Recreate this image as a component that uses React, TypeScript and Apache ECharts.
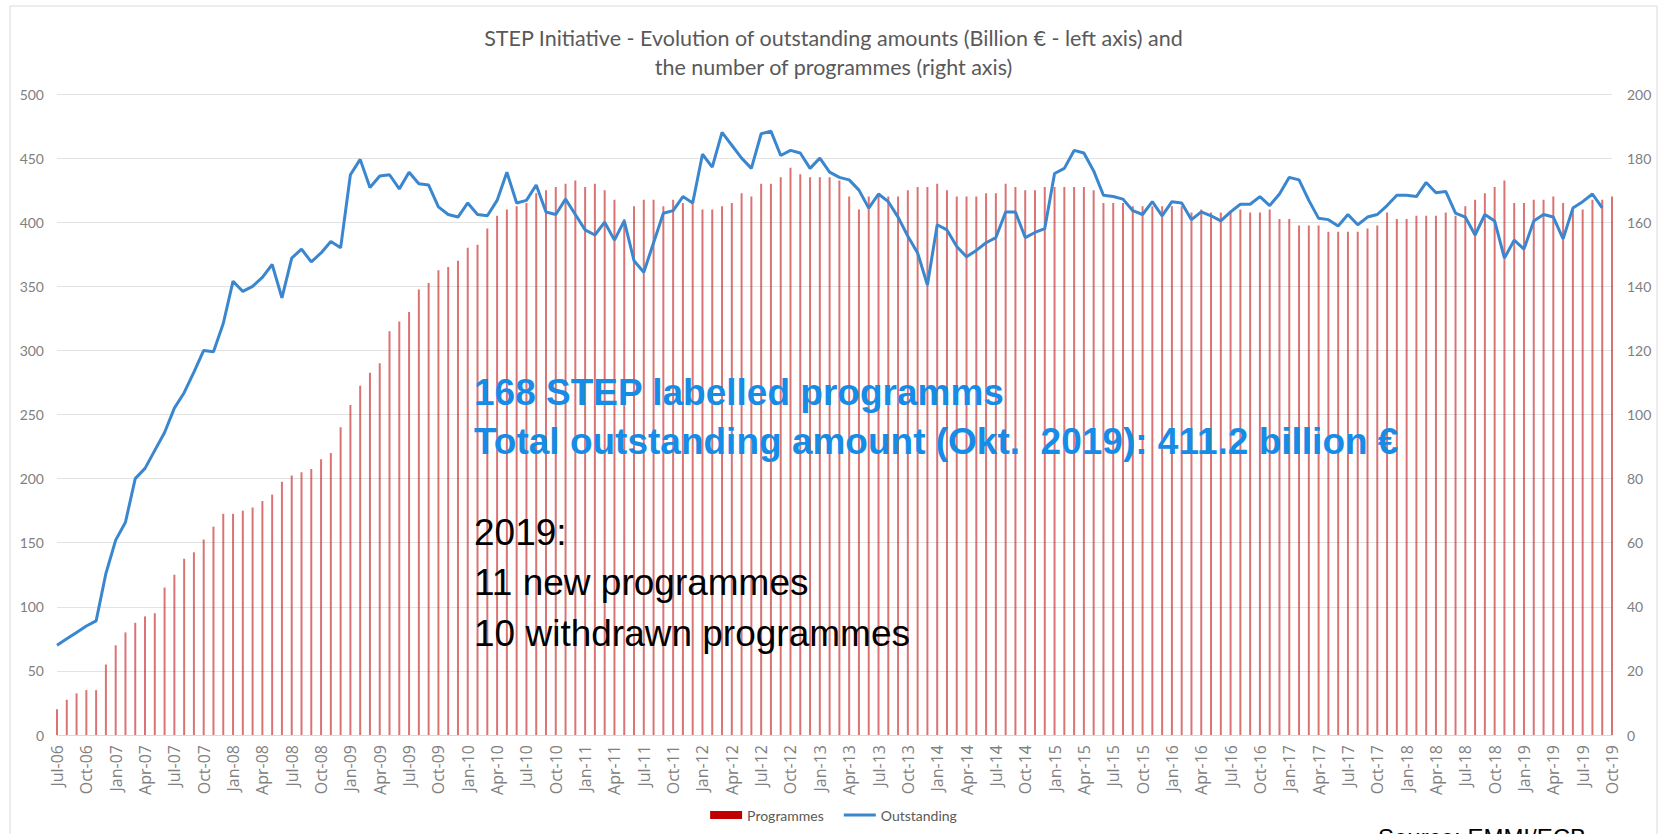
import React, { useEffect, useRef } from "react";
import * as echarts from "echarts";

const MONTH_NAMES = ["Jan", "Feb", "Mar", "Apr", "May", "Jun", "Jul", "Aug", "Sep", "Oct", "Nov", "Dec"];
const START_YEAR = 2006;
const START_MONTH = 6; // July
const MONTH_COUNT = 160; // Jul-06 .. Oct-19
const categories: string[] = [];
for (let k = 0; k < MONTH_COUNT; k++) {
  const m = (START_MONTH + k) % 12;
  const y = START_YEAR + Math.floor((START_MONTH + k) / 12);
  categories.push(`${MONTH_NAMES[m]}-${String(y % 100).padStart(2, "0")}`);
}

// Number of programmes (right axis)
const programmes = [
  8, 11, 13, 14, 14, 22, 28, 32, 35, 37, 38, 46, 50, 55, 57, 61, 65, 69, 69, 70,
  71, 73, 75, 79, 81, 82, 83, 86, 88, 96, 103, 109, 113, 116, 126, 129, 132, 139, 141, 145,
  146, 148, 152, 153, 158, 162, 164, 165, 166, 169, 170, 171, 172, 173, 171, 172, 170, 167, 161, 165,
  167, 167, 165, 167, 166, 166, 164, 164, 165, 166, 169, 168, 172, 172, 174, 177, 175, 174, 174, 174,
  173, 168, 164, 168, 168, 168, 168, 170, 171, 171, 172, 170, 168, 168, 168, 169, 169, 172, 171, 170,
  170, 171, 171, 171, 171, 171, 170, 166, 166, 166, 165, 165, 165, 165, 165, 165, 163, 164, 163, 163,
  163, 164, 163, 163, 164, 161, 161, 159, 159, 159, 157, 157, 157, 157, 158, 159, 163, 161, 161, 162,
  162, 162, 163, 162, 165, 167, 169, 171, 173, 166, 166, 167, 167, 168, 166, 164, 164, 167, 167, 168,
];

// Outstanding amounts, billion EUR (left axis)
const outstanding: (number | null)[] = [
  70, 75, 80, 85, 89, 126, 152, 166, 200, 208, 222, 236, 255, 267, 283, 300, 299, 321, 354, 346,
  350, 357, 367, 341, 372, 379, 369, 376, 385, 380, 437, 449, 427, 436, 437, 426, 439, 430, 429, 412,
  406, 404, 415, 406, 405, 417, 439, 415, 417, 429, 408, 406, 418, 406, 394, 390, 400, 386, 401, 370,
  361, 384, 407, 409, 420, 415, 453, 443, 470, 460, 450, 442, 469, 471, 452, 456, 454, 442, 450, 439,
  435, 433, 425, 411, 422, 416, 404, 389, 376, 351, 398, 394, 381, 373, 378, 384, 388, 408, 408, 388,
  392, 395, 438, 442, 456, 454, 440, 421, 420, 418, 409, 406, 416, 405, 416, 415, 402, 408, 405, 401,
  408, 414, 414, 420, 413, 422, 435, 433, 417, 403, 402, 397, 406, 398, 404, 406, 413, 421, 421, 420,
  431, 423, 424, 407, 404, 390, 406, 401, 372, 386, 379, 401, 406, 404, 387, 411, 416, 422, 411.2, null,
];

const leftTicks = { min: 0, max: 500, interval: 50 };
const rightTicks = { min: 0, max: 200, interval: 20 };

const TITLE =
  "STEP Initiative - Evolution of outstanding amounts (Billion \u20ac - left axis) and\nthe number of programmes (right axis)";

const blueNotes = [
  "168 STEP labelled programms",
  "Total outstanding amount (Okt.  2019): 411.2 billion \u20ac",
];
const blackNotes = ["2019:", "11 new programmes", "10 withdrawn programmes"];
const SOURCE = "Source: EMMI/ECB";

const BAR_COLOR = "#C00000";
const LINE_COLOR = "#3A87CF";
const BLUE_TEXT = "#168CE6";
const AXIS_TEXT = "#808080";
const FONT = "Lato, 'Open Sans', sans-serif";
const ARIAL = "'Liberation Sans', Arial, sans-serif";

// legend icon for the line: a 3px band centred in the 8px-high icon box
const LINE_ICON =
  "path://M0,0 L0.01,0 L0,0.01 Z M0,2.5 L32,2.5 L32,5.5 L0,5.5 Z M0,8 L0.01,8 L0,7.99 Z";

export default function App() {
  const ref = useRef<HTMLDivElement>(null);

  useEffect(() => {
    if (!ref.current) return;
    const chart = echarts.init(ref.current, undefined, { renderer: "svg" });

    const blueY = [392, 441];
    const blackY = [532, 582, 633];

    const graphics: any[] = [
      {
        type: "rect",
        shape: { x: 10, y: 6, width: 1647, height: 850 },
        style: { fill: "none", stroke: "#d9d9d9", lineWidth: 1 },
        silent: true,
        z: 0,
      },
    ];
    blueNotes.forEach((t, i) => {
      graphics.push({
        type: "text",
        x: 474,
        y: blueY[i],
        z: 100,
        style: {
          text: t,
          fill: BLUE_TEXT,
          fontSize: 37,
          fontWeight: "bold",
          fontFamily: ARIAL,
          verticalAlign: "middle",
          align: "left",
        },
      });
    });
    blackNotes.forEach((t, i) => {
      graphics.push({
        type: "text",
        x: 474,
        y: blackY[i],
        z: 100,
        style: {
          text: t,
          fill: "#000000",
          fontSize: 37,
          fontFamily: ARIAL,
          verticalAlign: "middle",
          align: "left",
        },
      });
    });
    graphics.push({
      type: "text",
      x: 1378,
      y: 837,
      z: 100,
      style: {
        text: SOURCE,
        fill: "#000000",
        fontSize: 24,
        fontFamily: ARIAL,
        verticalAlign: "middle",
        align: "left",
      },
    });

    chart.setOption({
      animation: false,
      backgroundColor: "#ffffff",
      title: {
        text: TITLE,
        left: "center",
        top: 18,
        textStyle: {
          fontFamily: FONT,
          fontSize: 21.5,
          fontWeight: "normal",
          color: "#595959",
          lineHeight: 29,
        },
      },
      legend: {
        left: "center",
        top: 803,
        itemWidth: 32,
        itemHeight: 8,
        itemGap: 20,
        textStyle: { fontFamily: FONT, fontSize: 14, color: "#595959" },
        data: [
          { name: "Programmes", icon: "rect", itemStyle: { color: BAR_COLOR, opacity: 1 } },
          { name: "Outstanding", icon: LINE_ICON, itemStyle: { color: LINE_COLOR, opacity: 1 } },
        ],
      },
      grid: { left: 57, right: 55, top: 94, bottom: 99, containLabel: false },
      xAxis: {
        type: "category",
        data: categories,
        boundaryGap: false,
        axisTick: { show: false },
        axisLine: { lineStyle: { color: "#d9d9d9" } },
        axisLabel: {
          interval: 2,
          rotate: 90,
          margin: 10,
          fontSize: 16,
          fontFamily: "'Open Sans', Lato, sans-serif",
          color: AXIS_TEXT,
        },
        splitLine: { show: false },
      },
      yAxis: [
        {
          type: "value",
          ...leftTicks,
          axisLine: { show: false },
          axisTick: { show: false },
          axisLabel: { fontSize: 14, fontFamily: FONT, color: AXIS_TEXT, margin: 13 },
          splitLine: { lineStyle: { color: "#e3e3e3", width: 1 } },
        },
        {
          type: "value",
          position: "right",
          ...rightTicks,
          axisLine: { show: false },
          axisTick: { show: false },
          axisLabel: { fontSize: 14, fontFamily: FONT, color: AXIS_TEXT, margin: 15 },
          splitLine: { show: false },
        },
      ],
      series: [
        {
          name: "Programmes",
          type: "bar",
          yAxisIndex: 1,
          data: programmes,
          barWidth: 2,
          clip: false,
          itemStyle: { color: BAR_COLOR, opacity: 0.55 },
          z: 2,
        },
        {
          name: "Outstanding",
          type: "line",
          yAxisIndex: 0,
          data: outstanding,
          symbol: "none",
          showSymbol: false,
          connectNulls: false,
          lineStyle: { color: LINE_COLOR, width: 3 },
          itemStyle: { color: LINE_COLOR },
          z: 3,
        },
      ],
      graphic: graphics,
    });

    return () => chart.dispose();
  }, []);

  return (
    <div
      ref={ref}
      style={{ position: "fixed", left: 0, top: 0, width: 1667, height: 834, background: "#fff" }}
    />
  );
}
